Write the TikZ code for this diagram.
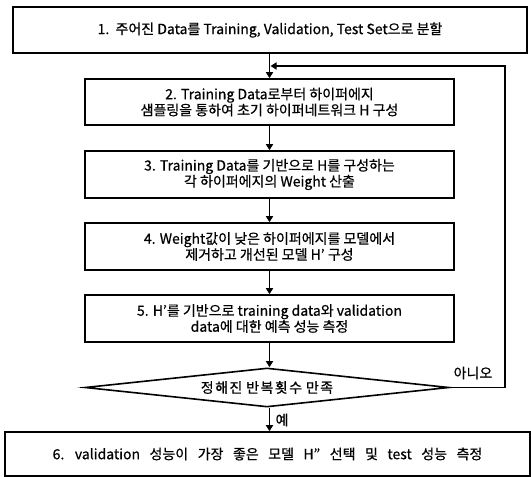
\documentclass[tikz,border=0pt]{standalone}
\usepackage{fontspec}
\setmainfont{Noto Sans CJK KR}[FakeBold=0.6]
\newfontfamily\dmdfont{Noto Sans CJK KR}[FakeBold=0.6,LetterSpace=10]
\usetikzlibrary{shapes.geometric,arrows.meta}
\begin{document}
\begin{tikzpicture}[x=1pt,y=-1pt,
  box/.style={draw,line width=1.6pt,inner sep=0pt,align=center,
    font=\fontsize{14}{16}\selectfont},
  ar/.style={-{Triangle[length=6pt,width=7pt]},line width=1.6pt},
  lbl/.style={font=\fontsize{14}{16}\selectfont,inner sep=0pt}]
\useasboundingbox (0,0) rectangle (531,477);
\node[box,minimum width=514pt,minimum height=46pt] (b1) at (270,30)
  {1.\ \ 주어진 Data를 Training, Validation, Test Set으로 분할};
\node[box,minimum width=369pt,minimum height=46pt] (b2) at (269.5,102)
  {2. Training Data로부터 하이퍼에지\\샘플링을 통하여 초기 하이퍼네트워크 H 구성};
\node[box,minimum width=369pt,minimum height=47pt] (b3) at (269.5,174.5)
  {3. Training Data를 기반으로 H를 구성하는\\각 하이퍼에지의 Weight 산출};
\node[box,minimum width=369pt,minimum height=47pt] (b4) at (269.5,246.5)
  {4. Weight값이 낮은 하이퍼에지를 모델에서\\제거하고 개선된 모델 H’ 구성};
\node[box,minimum width=369pt,minimum height=47pt] (b5) at (269.5,318.5)
  {5. H’를 기반으로 training data와 validation\\data에 대한 예측 성능 측정};
\node[draw,line width=1.6pt,shape=diamond,aspect=9.3,inner sep=0pt,
  minimum width=364pt,minimum height=39pt,
  font={\dmdfont\fontsize{14}{16}\selectfont\spaceskip 4pt\relax}] (d) at (267,387.5)
  {정해진 반복횟수 만족};
\node[box,minimum width=525pt,minimum height=44pt,
  font={\fontsize{14}{16}\selectfont\spaceskip 9.5pt\relax}] (b6) at (267.5,454)
  {6. validation 성능이 가장 좋은 모델 H” 선택 및 test 성능 측정};
\coordinate (lp) at (505,66);
\draw[ar] (b2.north |- b1.south) -- (b2.north);
\draw[ar] (b2.south) -- (b3.north);
\draw[ar] (b3.south) -- (b4.north);
\draw[ar] (b4.south) -- (b5.north);
\draw[ar] (b5.south) -- (b5.south |- d.north);
\draw[ar] (b5.south |- d.south) -- (b5.south |- b6.north);
\draw[ar] (d.east) -| (lp) -- ([xshift=1pt]b2.north |- lp);
\node[lbl] (no) at (473,373) {아니오};
\node[lbl] (yes) at (282,420) {예};
\end{tikzpicture}
\end{document}
